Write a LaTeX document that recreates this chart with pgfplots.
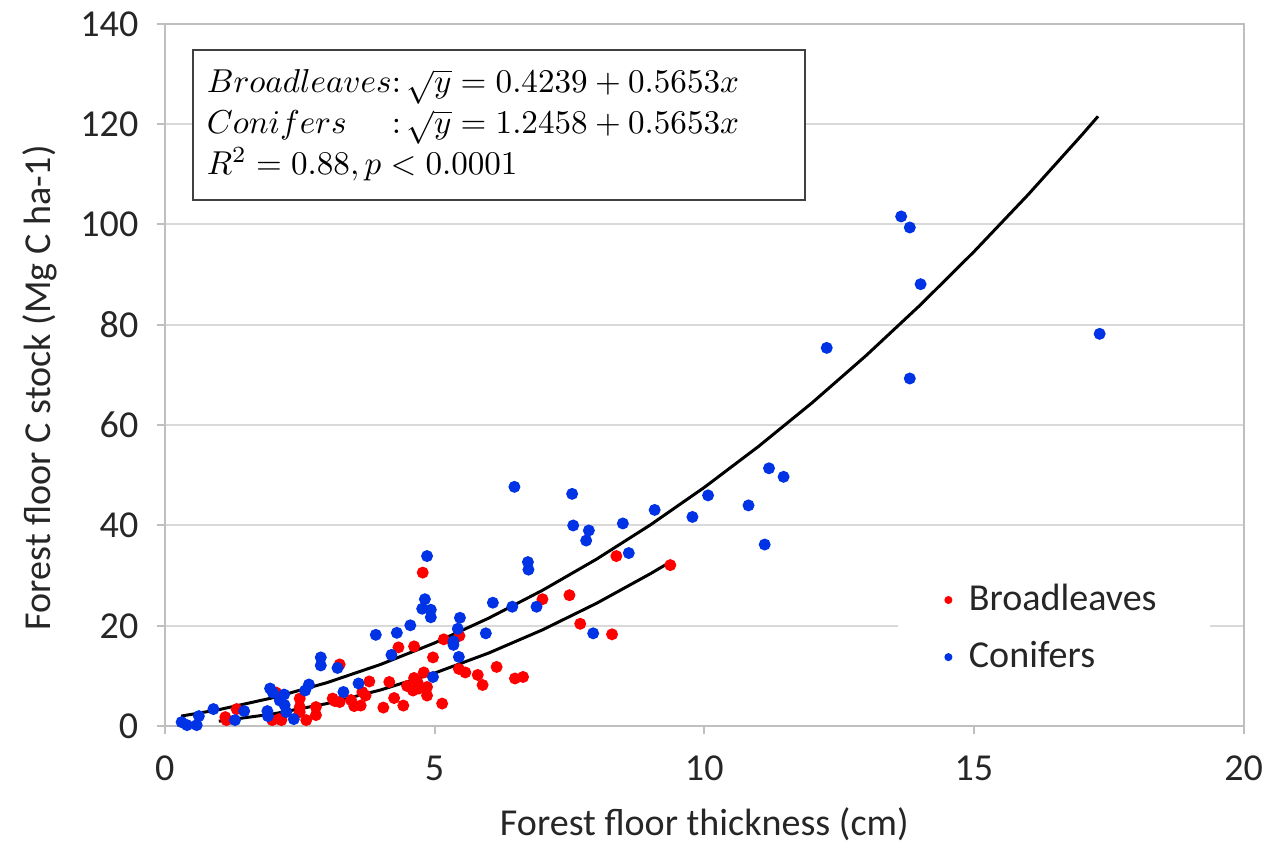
\documentclass[border=0pt]{standalone}
\usepackage{pgfplots}
\pgfplotsset{compat=1.18}
\usepackage{fontspec}
\setmainfont{Carlito}
\usetikzlibrary{calc}

\definecolor{bredcol}{RGB}{255,0,0}
\definecolor{conbluecol}{RGB}{0,50,230}
\definecolor{gridcol}{RGB}{217,217,217}
\definecolor{axcol}{RGB}{191,191,191}
\definecolor{txtcol}{RGB}{38,38,38}

\begin{document}
\begin{tikzpicture}
\begin{axis}[
  name=ax,
  scale only axis,
  width=325.8pt, height=212.1pt,
  xmin=0, xmax=20, ymin=0, ymax=140,
  xtick={0,5,10,15,20},
  ytick={0,20,40,60,80,100,120,140},
  xtick pos=bottom, ytick pos=left,
  tick align=outside,
  major tick length=2.5pt,
  tick style={axcol, line width=0.6pt},
  axis line style={axcol, line width=0.6pt},
  ymajorgrids=true,
  grid style={gridcol, line width=0.6pt},
  /pgf/number format/assume math mode=true,
  ticklabel style={font=\fontsize{11.5}{13}\selectfont, text=txtcol},
  yticklabel style={xshift=-2pt},
  xticklabel style={yshift=-3pt},
  label style={font=\fontsize{11.5}{13}\selectfont, text=txtcol},
  xlabel={Forest floor thickness (cm)},
  ylabel={Forest floor C stock (Mg C ha-1)},
  xlabel style={at={(axis description cs:0.5,-0.14)}, anchor=center},
  ylabel style={at={(axis description cs:-0.116,0.482)}, anchor=center},
  legend style={draw=none, fill=white, at={(0.824,0.139)}, anchor=center,
    inner xsep=14pt, inner ysep=2pt, row sep=3.8pt,
    font=\fontsize{11.5}{13}\selectfont, text=txtcol},
  legend cell align=left,
  legend image code/.code={\fill[#1] (0pt,0pt) circle (1pt); \path (-1pt,0pt) (4pt,0pt);},
]
% Broadleaves
\addplot[only marks, mark=*, mark size=1.6pt, color=bredcol] coordinates {
(1.12,1.8) (1.14,1.2) (1.33,3.4) (1.99,1.2) (2.06,6.7) (2.12,1.4) (2.16,1.2)
(2.50,5.5) (2.50,3.8) (2.50,2.8) (2.62,1.2) (2.80,2.2) (2.80,3.8) (3.11,5.5)
(3.15,5.0) (3.24,12.3) (3.24,4.8) (3.45,5.2) (3.51,4.0) (3.63,4.1) (3.66,6.8)
(3.72,6.1) (3.79,8.9) (4.05,3.7) (4.16,8.8) (4.25,5.6) (4.33,15.7) (4.42,4.1)
(4.49,8.0) (4.60,7.1) (4.62,9.6) (4.62,15.9) (4.68,8.8) (4.71,7.5) (4.78,30.6)
(4.80,10.7) (4.86,6.1) (4.86,7.8) (4.97,13.7) (5.14,4.5) (5.17,17.3) (5.45,11.4)
(5.46,18.0) (5.57,10.7) (5.80,10.2) (5.89,8.2) (6.15,11.8) (6.49,9.5) (6.64,9.8)
(7.00,25.3) (7.50,26.1) (7.70,20.4) (8.29,18.3) (8.37,33.9) (9.37,32.1)
};
\addlegendentry{Broadleaves}
% Conifers
\addplot[only marks, mark=*, mark size=1.6pt, color=conbluecol] coordinates {
(0.31,0.8) (0.41,0.2) (0.59,0.2) (0.63,2.0) (0.90,3.4) (1.30,1.2) (1.47,3.0)
(1.90,3.0) (1.91,2.0) (1.95,7.5) (2.00,6.7) (2.13,5.1) (2.21,6.3) (2.22,4.2)
(2.25,2.8) (2.39,1.4) (2.60,7.1) (2.67,8.3) (2.89,13.7) (2.89,12.1) (3.20,11.6)
(3.31,6.8) (3.59,8.5) (3.91,18.2) (4.20,14.2) (4.30,18.6) (4.55,20.1) (4.77,23.4)
(4.82,25.3) (4.86,33.9) (4.93,23.2) (4.93,21.7) (4.97,9.8) (5.35,16.9) (5.35,16.2)
(5.43,19.4) (5.45,13.8) (5.47,21.6) (5.95,18.5) (6.08,24.6) (6.44,23.8) (6.48,47.7)
(6.73,32.7) (6.74,31.2) (6.89,23.8) (7.55,46.3) (7.57,40.0) (7.81,37.0) (7.86,39.0)
(7.94,18.5) (8.49,40.4) (8.60,34.5) (9.08,43.1) (9.78,41.7) (10.07,46.0) (10.82,44.0)
(11.12,36.2) (11.20,51.4) (11.47,49.7) (12.27,75.4) (13.65,101.6) (13.81,99.4)
(13.81,69.3) (14.01,88.1) (17.33,78.2)
};
\addlegendentry{Conifers}
% fitted curves
\addplot[black, line width=0.9pt, forget plot] coordinates {
(1.0,0.98) (2,2.42) (3,4.49) (4,7.21) (5,10.57) (6,14.56) (7,19.19) (8,24.47)
(9,30.38) (9.3,32.28)
};
\addplot[black, line width=0.9pt, forget plot] coordinates {
(0.3,2.00) (1,3.28) (2,5.65) (3,8.65) (4,12.30) (5,16.58) (6,21.51) (7,27.07)
(8,33.27) (9,40.11) (10,47.59) (11,55.71) (12,64.47) (13,73.87) (14,83.91)
(15,94.58) (16,105.90) (17,117.85) (17.3,121.56)
};
\node[draw=black!75, line width=0.6pt, fill=white, anchor=north west,
  inner xsep=4.2pt, inner ysep=4.2pt, text width=176.6pt, align=left,
  font=\fontsize{10.4}{12.3}\selectfont]
  at (axis cs:0.5,134.9) {%
  \begin{tabular}{@{}l@{}l@{}}
  $Broadleaves$ & $\colon \sqrt{y} = 0.4239 + 0.5653x$\\
  $Conifers$ & $\colon \sqrt{y} = 1.2458 + 0.5653x$\\
  \multicolumn{2}{@{}l@{}}{$R^2 = 0.88, p < 0.0001$}
  \end{tabular}};
\end{axis}
\path ($(ax.south west)+(-49.8pt,-39.6pt)$) rectangle ($(ax.north east)+(6.6pt,7.2pt)$);
\end{tikzpicture}
\end{document}
